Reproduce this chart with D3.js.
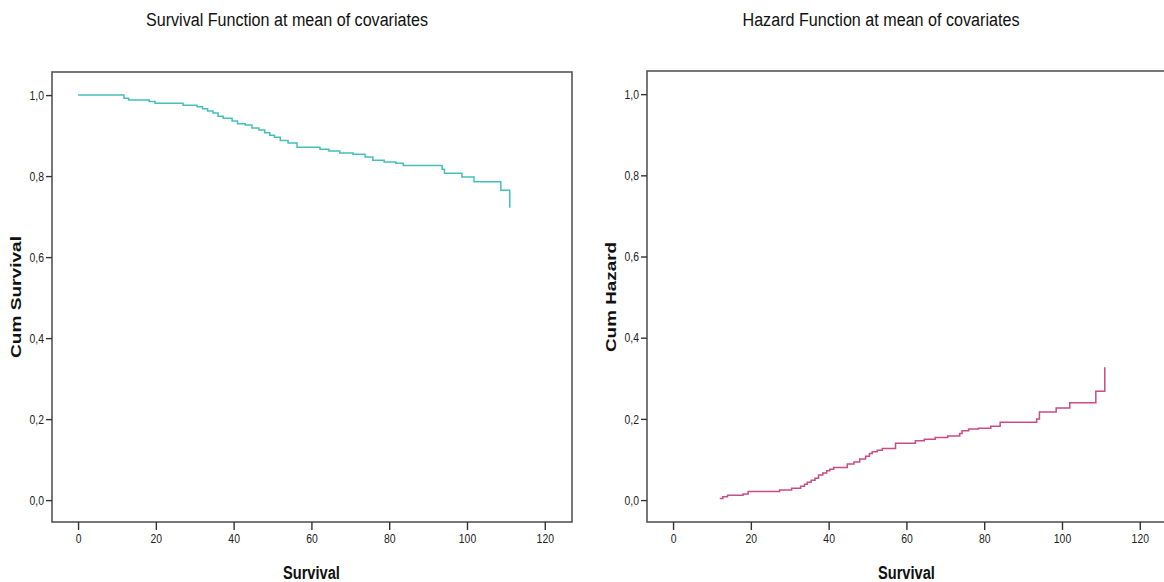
<!DOCTYPE html>
<html>
<head>
<meta charset="utf-8">
<script src="https://cdn.jsdelivr.net/npm/d3@7"></script>
<style>
  body { margin: 0; background: #fff; }
  svg { display: block; }
  .narrow { font-family: "Liberation Sans", Arial, sans-serif; }
  .tick text { fill: #222; }
  .naslov { font-size: 18px; fill: #111; }
  .x-oznaka { font-size: 18px; font-weight: bold; fill: #111; }
  .y-oznaka { font-family: "Liberation Sans", Arial, sans-serif; font-size: 15px; font-weight: bold; fill: #111; }
</style>
</head>
<body>
<div id="okvir"></div>
<script>
// survival (cum survival) steps
const survTimes = [0, 11.8, 13, 18.3, 19.8, 27, 30.6, 32, 33.3, 34.7, 36, 37.3, 39.6, 41, 43, 44.7, 46.5, 48, 49.3, 50.5, 52, 54, 56.3, 62.2, 64.5, 67.3, 70.7, 73.8, 75.8, 78.7, 81.7, 83.6, 93.6, 94.2, 98.7, 101.8, 108.7, 111]
const survValues = [1.000, 0.992, 0.988, 0.984, 0.980, 0.975, 0.971, 0.966, 0.961, 0.956, 0.948, 0.943, 0.936, 0.929, 0.926, 0.919, 0.914, 0.907, 0.901, 0.896, 0.888, 0.882, 0.871, 0.866, 0.862, 0.857, 0.854, 0.847, 0.839, 0.835, 0.832, 0.826, 0.817, 0.807, 0.798, 0.786, 0.765, 0.722]

// cum hazard steps
const hazTimes = [12, 12.8, 14, 18, 19.3, 27.4, 30.5, 32.8, 33.8, 34.5, 35.5, 36.5, 37.4, 38.5, 39.5, 40.3, 41.3, 44.8, 46.5, 48, 49.5, 50.5, 51.2, 52.5, 53.8, 57.2, 62.3, 64.6, 67.4, 70.6, 73.7, 74.3, 76, 78.5, 81.7, 84.1, 93.5, 94.2, 98.5, 102, 108.7, 111]
const hazValues = [0.004, 0.008, 0.012, 0.015, 0.021, 0.025, 0.029, 0.034, 0.039, 0.044, 0.049, 0.054, 0.062, 0.067, 0.072, 0.076, 0.080, 0.089, 0.094, 0.101, 0.108, 0.115, 0.119, 0.123, 0.127, 0.140, 0.146, 0.150, 0.154, 0.158, 0.164, 0.171, 0.175, 0.177, 0.182, 0.192, 0.200, 0.217, 0.227, 0.240, 0.268, 0.327]

const xTicks = [0, 20, 40, 60, 80, 100, 120]
const yTicks = [0, 0.2, 0.4, 0.6, 0.8, 1.0]

const okvir = d3.select("#okvir")
  .append("svg")
    .attr("width", 1164)
    .attr("height", 582)

const formatZarez = d => d3.format(".1f")(d).replace(".", ",")

// nema uskog fonta, pa tekst stisnemo
function stisni(sel, faktor) {
  sel.each(function() {
    const w = this.getComputedTextLength()
    d3.select(this)
      .attr("textLength", w * faktor)
      .attr("lengthAdjust", "spacingAndGlyphs")
  })
}

function crtajPanel(p) {
  const podaci = p.times.map((t, i) => [t, p.values[i]])

  const xSkala = d3.scaleLinear()
    .domain([-6.7, 127])
    .range([p.left, p.right])

  const ySkala = d3.scaleLinear()
    .domain([-0.054, 1.057])
    .range([522, p.top])

  const g = okvir.append("g")

  // naslov
  g.append("text")
      .attr("class", "naslov narrow")
      .attr("x", p.titleX)
      .attr("y", 26)
      .attr("text-anchor", "middle")
      .attr("textLength", p.titleW)
      .attr("lengthAdjust", "spacingAndGlyphs")
      .text(p.title)

  // okvir grafa
  g.append("rect")
      .attr("x", p.left)
      .attr("y", p.top)
      .attr("width", p.right - p.left)
      .attr("height", 522 - p.top)
      .attr("fill", "none")
      .attr("stroke", "#555")
      .attr("stroke-width", 1.6)

  // osi
  const xOs = g.append("g")
      .attr("class", "narrow")
      .attr("transform", "translate(0,522)")
      .call(d3.axisBottom(xSkala).tickValues(xTicks).tickSize(8).tickPadding(4).tickFormat(d3.format("d")))
  xOs.select(".domain").remove()

  const yOs = g.append("g")
      .attr("class", "narrow")
      .attr("transform", `translate(${p.left},0)`)
      .call(d3.axisLeft(ySkala).tickValues(yTicks).tickSize(6).tickPadding(2).tickFormat(formatZarez))
  yOs.select(".domain").remove()

  g.selectAll(".tick line").attr("stroke", "#333").attr("stroke-width", 1.4)
  g.selectAll(".tick text").attr("font-size", 13).attr("font-family", "Liberation Sans, Arial, sans-serif")
  stisni(g.selectAll(".tick text"), 0.8)

  // linija
  const linija = d3.line()
    .x(d => xSkala(d[0]))
    .y(d => ySkala(d[1]))
    .curve(d3.curveStepAfter)

  g.append("path")
      .datum(podaci)
      .attr("d", linija)
      .attr("fill", "none")
      .attr("stroke", p.color)
      .attr("stroke-width", 1.5)

  // oznake osi
  g.append("text")
      .attr("class", "x-oznaka narrow")
      .attr("x", xSkala(60))
      .attr("y", 579)
      .attr("text-anchor", "middle")
      .attr("textLength", 57)
      .attr("lengthAdjust", "spacingAndGlyphs")
      .text("Survival")

  g.append("text")
      .attr("class", "y-oznaka")
      .attr("transform", `translate(${p.left - 31},297) rotate(-90)`)
      .attr("text-anchor", "middle")
      .attr("textLength", p.yLabelW)
      .attr("lengthAdjust", "spacingAndGlyphs")
      .text(p.yLabel)
}

crtajPanel({
  times: survTimes, values: survValues,
  left: 52, right: 572, top: 72, titleX: 287, titleW: 282,
  title: "Survival Function at mean of covariates",
  yLabel: "Cum Survival", yLabelW: 122, color: "#45bfba"
})

crtajPanel({
  times: hazTimes, values: hazValues,
  left: 647, right: 1167, top: 71, titleX: 881, titleW: 277,
  title: "Hazard Function at mean of covariates",
  yLabel: "Cum Hazard", yLabelW: 110, color: "#c94b87"
})
</script>
</body>
</html>
